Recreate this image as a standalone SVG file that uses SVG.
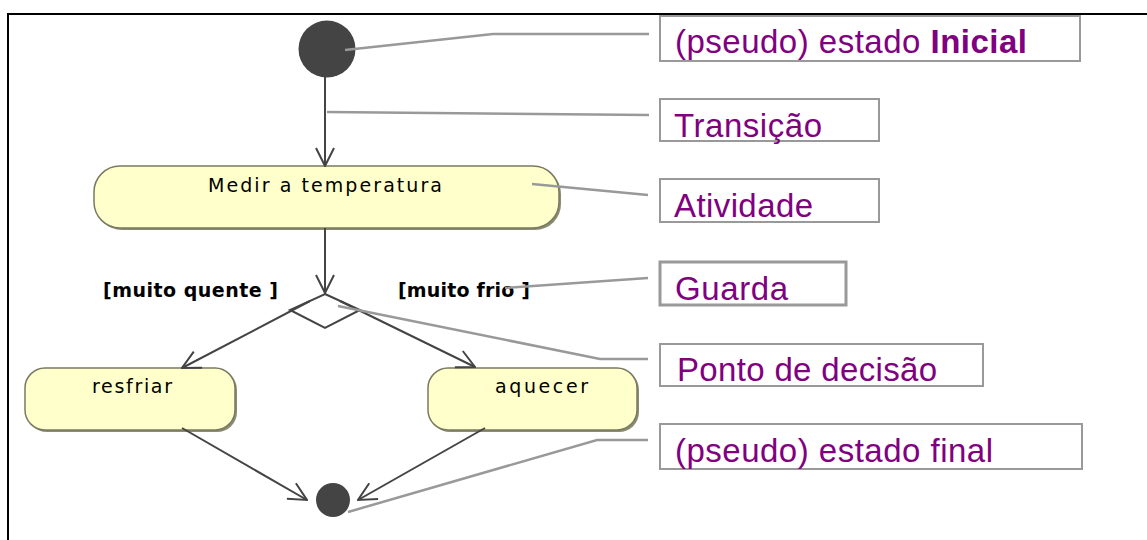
<svg xmlns="http://www.w3.org/2000/svg" width="1147" height="540" viewBox="0 0 1147 540">
<style>
.frame{stroke:#000;stroke-width:2;fill:none}
.act{fill:#FFFFCC;stroke:#7a7a62;stroke-width:1.5}
.shadow{fill:#8c8c74}
.flow{stroke:#444;stroke-width:2;fill:none}
.call{stroke:#999;stroke-width:2.5;fill:none}
.lbox{fill:#fff;stroke:#999;stroke-width:2}
.lbl{font-family:"Liberation Sans",Arial,sans-serif;font-size:33px;fill:#800080}
.ntxt{font-family:"DejaVu Sans",Verdana,sans-serif;font-size:19px;fill:#000}
.guard{font-family:"DejaVu Sans",Verdana,sans-serif;font-size:19px;font-weight:bold;fill:#000}
.dot{fill:#444}
</style>
<defs>
<marker id="arr" viewBox="0 0 20 20" refX="19" refY="10" markerWidth="20" markerHeight="20" markerUnits="userSpaceOnUse" orient="auto">
<path d="M1,1 L19,10 L1,19" fill="none" stroke="#444" stroke-width="2"/>
</marker>
</defs>
<rect width="1147" height="540" fill="#fff"/>
<path class="frame" d="M8,540 L8,14 L1147,14"/>

<g id="label-inicial">
<rect class="lbox" x="660" y="16" width="420" height="45"/>
<text class="lbl" x="675" y="53" textLength="352" lengthAdjust="spacing">(pseudo) estado <tspan font-weight="bold">Inicial</tspan></text>
</g>
<g id="label-transicao">
<rect class="lbox" x="660" y="99" width="219" height="42"/>
<text class="lbl" x="674" y="137" textLength="148" lengthAdjust="spacing">Transição</text>
</g>
<g id="label-atividade">
<rect class="lbox" x="660" y="179" width="219" height="43"/>
<text class="lbl" x="674" y="217" textLength="139" lengthAdjust="spacing">Atividade</text>
</g>
<g id="label-guarda">
<rect class="lbox" x="660" y="262" width="186" height="43" style="stroke-width:3"/>
<text class="lbl" x="675" y="300" textLength="113" lengthAdjust="spacing">Guarda</text>
</g>
<g id="label-decisao">
<rect class="lbox" x="660" y="344" width="323" height="42"/>
<text class="lbl" x="677" y="381" textLength="260" lengthAdjust="spacing">Ponto de decisão</text>
</g>
<g id="label-final">
<rect class="lbox" x="660" y="424" width="422" height="45"/>
<text class="lbl" x="675" y="462" textLength="318" lengthAdjust="spacing">(pseudo) estado final</text>
</g>

<g id="initial">
<circle class="dot" cx="327" cy="49" r="28.5"/>
</g>
<g id="medir">
<rect class="shadow" x="96" y="168" width="465" height="62" rx="26"/>
<rect class="act" x="94" y="166" width="465" height="62" rx="26"/>
<text class="ntxt" x="208" y="192" textLength="234" lengthAdjust="spacing">Medir a temperatura</text>
</g>
<g id="decision">
<polygon points="325,294 360,310 325,328 290,310" fill="#fff" stroke="#444" stroke-width="2"/>
</g>
<g id="resfriar">
<rect class="shadow" x="27" y="370" width="210" height="62" rx="20"/>
<rect class="act" x="25" y="368" width="210" height="62" rx="20"/>
<text class="ntxt" x="92" y="393" textLength="80" lengthAdjust="spacing">resfriar</text>
</g>
<g id="aquecer">
<rect class="shadow" x="430" y="370" width="209" height="62" rx="20"/>
<rect class="act" x="428" y="368" width="209" height="62" rx="20"/>
<text class="ntxt" x="495" y="393" textLength="93" lengthAdjust="spacing">aquecer</text>
</g>
<g id="final">
<circle class="dot" cx="333" cy="500" r="17"/>
</g>

<g id="guards">
<text class="guard" x="103" y="297" textLength="175" lengthAdjust="spacing">[muito quente ]</text>
<text class="guard" x="398" y="297" textLength="132" lengthAdjust="spacing">[muito frio ]</text>
</g>

<g id="connectors">
<line class="flow" x1="325" y1="77" x2="325" y2="166" marker-end="url(#arr)"/>
<line class="flow" x1="325" y1="228" x2="325" y2="293" marker-end="url(#arr)"/>
<line class="flow" x1="310" y1="301" x2="182" y2="368" marker-end="url(#arr)"/>
<line class="flow" x1="340" y1="301" x2="475" y2="367" marker-end="url(#arr)"/>
<line class="flow" x1="182" y1="428" x2="307" y2="500" marker-end="url(#arr)"/>
<line class="flow" x1="485" y1="428" x2="358" y2="500" marker-end="url(#arr)"/>
</g>

<g id="callouts">
<polyline class="call" points="345,50 493,34 649,34"/>
<line class="call" x1="327" y1="112" x2="649" y2="115"/>
<line class="call" x1="532" y1="184" x2="648" y2="195"/>
<line class="call" x1="505" y1="288" x2="648" y2="278"/>
<polyline class="call" points="338,306 600,359 648,359"/>
<polyline class="call" points="348,512 597,440 648,440"/>
</g>
</svg>
